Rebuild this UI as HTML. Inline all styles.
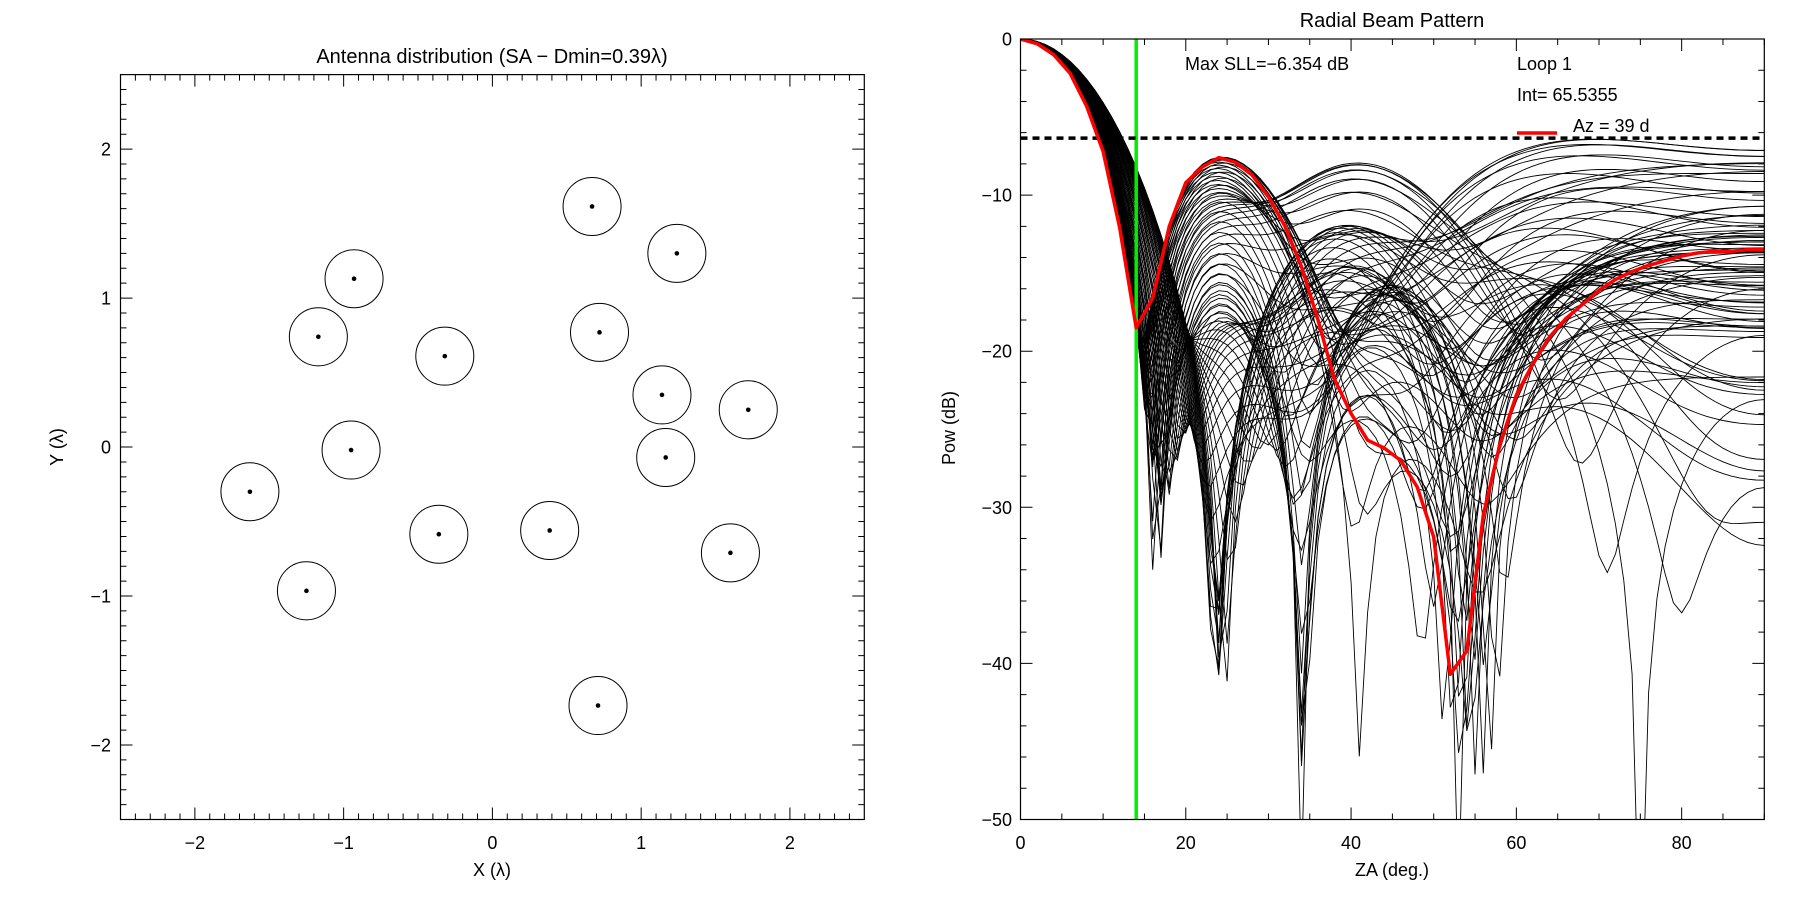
<!DOCTYPE html>
<html><head><meta charset="utf-8"><style>
html,body{margin:0;padding:0;background:#fff;overflow:hidden;width:1800px;height:900px;}
svg{display:block;font-family:"Liberation Sans",sans-serif;}
</style></head><body>
<svg id="fig" width="1800" height="900" viewBox="0 0 1800 900" xmlns="http://www.w3.org/2000/svg">
<defs><clipPath id="clipR"><rect x="1020.5" y="39" width="743.8" height="780.5"/></clipPath></defs>
<rect width="1800" height="900" fill="#fff"/>
<g id="left"></g>
<g id="right"></g>
</svg>
<script>
// ---- Left chart data ----
const antX = [0.67, 1.24, -0.93, -1.17, -0.32, 0.72, 1.14, 1.72, -0.95, 1.165, -1.63, -0.36, 0.385, 1.60, -1.25, 0.71];
const antY = [1.615, 1.30, 1.13, 0.74, 0.61, 0.77, 0.35, 0.25, -0.02, -0.07, -0.30, -0.585, -0.56, -0.71, -0.965, -1.735];
const dmin = 0.39;
const leftTicks = [-2, -1, 0, 1, 2];
const leftTickLabels = ["\u22122", "\u22121", "0", "1", "2"];

// ---- Right chart data ----
const redZA = [0,2,4,6,8,10,12,14,16,18,20,22,24,26,28,30,32,34,36,38,40,42,44,46,48,50,52,54,56,58,60,62,64,66,68,70,72,74,76,78,80,82,84,86,88,90];
const redDb = [0,-0.3,-1,-2.2,-4.3,-7.2,-12.1,-18.5,-16.6,-12,-9.2,-8.2,-7.6,-7.9,-8.7,-10.1,-12,-14.6,-18,-21.8,-24,-25.7,-26.2,-27,-28.7,-31.9,-40.7,-39.2,-30.5,-26,-22.8,-20.8,-19.1,-17.9,-17,-16.1,-15.4,-14.9,-14.5,-14.2,-13.9,-13.7,-13.6,-13.6,-13.5,-13.5];
const maxSLL = -6.354;
const cutZA = 14;
const rightXTicks = [0, 20, 40, 60, 80];
const rightXTickLabels = ["0", "20", "40", "60", "80"];
const rightYTicks = [0, -10, -20, -30, -40, -50];
const rightYTickLabels = ["0", "\u221210", "\u221220", "\u221230", "\u221240", "\u221250"];

const NS = "http://www.w3.org/2000/svg";
function mk(parent, tag, attrs, text) {
  const e = document.createElementNS(NS, tag);
  for (const k in attrs) e.setAttribute(k, attrs[k]);
  if (text !== undefined) e.textContent = text;
  parent.appendChild(e);
  return e;
}
const FS = 18;

// ===== LEFT =====
const L = document.getElementById('left');
const lx0 = 120.5, lx1 = 864.3, ly0 = 74.6, ly1 = 819.5;
const lsx = v => lx0 + (v + 2.5) / 5 * (lx1 - lx0);
const lsy = v => ly1 - (v + 2.5) / 5 * (ly1 - ly0);
let el = mk(L, 'rect', {x: lx0, y: ly0, width: lx1 - lx0, height: ly1 - ly0, fill: 'none', stroke: '#000', 'stroke-width': 1.2});


let tp = '';
for (let i = -24; i <= 24; i++) {
  const v = i / 10, major = (i % 10 === 0), len = major ? 12 : 6;
  const x = lsx(v), y = lsy(v);
  tp += `M${x},${ly1}v${-len}M${x},${ly0}v${len}M${lx0},${y}h${len}M${lx1},${y}h${-len}`;
}
el = mk(L, 'path', {d: tp, stroke: '#000', 'stroke-width': 1, fill: 'none'});


leftTicks.forEach((v, i) => {
  let t = mk(L, 'text', {x: lsx(v), y: 849, 'text-anchor': 'middle', 'font-size': FS}, leftTickLabels[i]);
  
  
  t = mk(L, 'text', {x: 111, y: lsy(v) + 6.5, 'text-anchor': 'end', 'font-size': FS}, leftTickLabels[i]);
  
  
});
const rpx = (dmin / 2) / 5 * (lx1 - lx0);
antX.forEach((x, i) => {
  let c = mk(L, 'circle', {cx: lsx(x), cy: lsy(antY[i]), r: rpx, fill: 'none', stroke: '#000', 'stroke-width': 1});
  
  
  c = mk(L, 'circle', {cx: lsx(x), cy: lsy(antY[i]), r: 2.3, fill: '#000'});
  
  
});
el = mk(L, 'text', {x: 492, y: 63, 'text-anchor': 'middle', 'font-size': 20}, 'Antenna distribution (SA \u2212 Dmin=0.39\u03bb)');


el = mk(L, 'text', {x: 492, y: 876, 'text-anchor': 'middle', 'font-size': FS}, 'X (\u03bb)');


el = mk(L, 'text', {x: 0, y: 0, 'text-anchor': 'middle', 'font-size': FS, transform: 'translate(63,447) rotate(-90)'}, 'Y (\u03bb)');



// ===== RIGHT =====
const R = document.getElementById('right');
const rx0 = 1020.5, rx1 = 1764.3, ry0 = 39, ry1 = 819.5;
const rsx = v => rx0 + v / 90 * (rx1 - rx0);
const rsy = v => ry0 + (-v) / 50 * (ry1 - ry0);
const curves = mk(R, 'g', {'clip-path': 'url(#clipR)'});


// Black curves: array-factor cuts computed from the antenna positions above
const N = antX.length;
for (let az = 0; az < 180; az += 2) {
  const ph = az * Math.PI / 180;
  let d = '';
  for (let za = 0; za <= 90; za += 1) {
    const s = Math.sin(za * Math.PI / 180);
    const u = s * Math.cos(ph), v = s * Math.sin(ph);
    let re = 0, im = 0;
    for (let k = 0; k < N; k++) {
      const a = 2 * Math.PI * (antX[k] * u + antY[k] * v);
      re += Math.cos(a); im += Math.sin(a);
    }
    let db = 10 * Math.log10(Math.max((re * re + im * im) / (N * N), 1e-8));
    if (db < -60) db = -60;
    d += (za === 0 ? 'M' : 'L') + rsx(za).toFixed(1) + ',' + rsy(db).toFixed(1);
  }
  const p = mk(curves, 'path', {d: d, fill: 'none', stroke: '#000', 'stroke-width': 0.9});
  
  
}
el = mk(R, 'line', {x1: rsx(cutZA), x2: rsx(cutZA), y1: ry0, y2: ry1, stroke: '#00ee00', 'stroke-width': 3.5});


el = mk(R, 'line', {x1: rx0, x2: rx1, y1: rsy(maxSLL), y2: rsy(maxSLL), stroke: '#000', 'stroke-width': 3.5, 'stroke-dasharray': '7,5'});


let rd = '';
redZA.forEach((z, i) => { rd += (i ? 'L' : 'M') + rsx(z).toFixed(1) + ',' + rsy(redDb[i]).toFixed(1); });
el = mk(R, 'path', {d: rd, fill: 'none', stroke: '#ff0000', 'stroke-width': 3.5, 'stroke-linejoin': 'round', 'clip-path': 'url(#clipR)'});


el = mk(R, 'rect', {x: rx0, y: ry0, width: rx1 - rx0, height: ry1 - ry0, fill: 'none', stroke: '#000', 'stroke-width': 1.2});


tp = '';
for (let v = 0; v <= 90; v += 5) {
  const len = (v % 20 === 0) ? 12 : 6, x = rsx(v);
  tp += `M${x},${ry1}v${-len}M${x},${ry0}v${len}`;
}
for (let v = 0; v >= -50; v -= 2) {
  const len = (v % 10 === 0) ? 12 : 6, y = rsy(v);
  tp += `M${rx0},${y}h${len}M${rx1},${y}h${-len}`;
}
el = mk(R, 'path', {d: tp, stroke: '#000', 'stroke-width': 1, fill: 'none'});


rightXTicks.forEach((v, i) => {
  const t = mk(R, 'text', {x: rsx(v), y: 849, 'text-anchor': 'middle', 'font-size': FS}, rightXTickLabels[i]);
  
  
});
rightYTicks.forEach((v, i) => {
  const t = mk(R, 'text', {x: 1012, y: rsy(v) + 6.5, 'text-anchor': 'end', 'font-size': FS}, rightYTickLabels[i]);
  
  
});
el = mk(R, 'text', {x: 1392, y: 27, 'text-anchor': 'middle', 'font-size': 20}, 'Radial Beam Pattern');


el = mk(R, 'text', {x: 1392, y: 876, 'text-anchor': 'middle', 'font-size': FS}, 'ZA (deg.)');


el = mk(R, 'text', {x: 0, y: 0, 'text-anchor': 'middle', 'font-size': FS, transform: 'translate(955,428) rotate(-90)'}, 'Pow (dB)');


el = mk(R, 'text', {x: 1185, y: 70, 'font-size': FS}, 'Max SLL=\u22126.354 dB');


el = mk(R, 'text', {x: 1517, y: 70, 'font-size': FS}, 'Loop 1');


el = mk(R, 'text', {x: 1517, y: 101, 'font-size': FS}, 'Int= 65.5355');


el = mk(R, 'line', {x1: 1517, x2: 1557, y1: 133, y2: 133, stroke: '#ff0000', 'stroke-width': 3.5});


el = mk(R, 'text', {x: 1573, y: 132, 'font-size': FS}, 'Az = 39 d');


</script>
</body></html>
